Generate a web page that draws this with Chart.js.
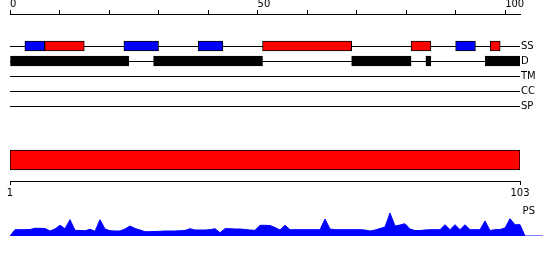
<!DOCTYPE html>
<html><head><meta charset="utf-8">
<script src="https://cdn.jsdelivr.net/npm/chart.js@4"></script>
<style>
html,body{margin:0;padding:0;background:#fff;}
#wrap{position:relative;width:550px;height:260px;overflow:hidden;}
canvas{position:absolute;left:0;}
</style></head><body>
<div id="wrap">
<canvas id="c1" width="550" height="200" style="top:0;width:550px;height:200px"></canvas>
<canvas id="c2" width="550" height="65" style="top:195px;width:550px;height:65px"></canvas>
</div>
<script>
// ---- data ----
const trackNames = ['SS', 'D', 'TM', 'CC', 'SP'];
const topTicks = [0, 10, 20, 30, 40, 50, 60, 70, 80, 90, 100];
const topLabels = [0, 50, 100];
const bottomTicks = [1, 103];
const ssHelix = [[7, 15], [51, 69], [81, 85], [97, 99]];      // red
const ssStrand = [[3, 7], [23, 30], [38, 43], [90, 94]];      // blue
const disorder = [[0, 24], [29, 51], [69, 81], [84, 85], [96, 103]];
const domain = [[1, 103]];
const psLabel = 'PS';
const psValues = [
  0, 6.3, 6.3, 6.3, 6.5, 7.7, 7.7, 7.5, 5, 7,
  10.7, 7.3, 16.3, 5.7, 5.5, 5.3, 6.7, 4.7, 16.3, 7,
  5.3, 5, 5, 7, 10, 7.5, 6, 4.3, 4.3, 4.5,
  4.7, 5, 5, 5, 5.3, 5.5, 7.3, 6, 6, 6,
  6.3, 7.3, 3.3, 7.3, 7.3, 7, 7, 6.5, 6, 5.7,
  10.7, 10.7, 10.5, 8.5, 6, 10.7, 6.3, 6.3, 6.3, 6.3,
  6.3, 6.3, 6.3, 17, 7, 6.3, 6.3, 6.3, 6.3, 6.3,
  6.3, 6, 5, 6, 7.5, 9, 23, 10, 11, 12.3,
  7, 5.5, 5.5, 6, 6.3, 6.3, 6.3, 11.3, 6.3, 11.3,
  6.3, 11.3, 6.3, 6.3, 6.3, 15, 5.5, 6.3, 6.5, 8,
  17.3, 11.3, 11.3
];
const psTail = [0, 0, 0, 0, 0];   // flat baseline past the last residue

// ---- layout constants ----
const FONT = {family: 'DejaVu Sans', size: 10};
const DOMAIN_ROW = 7.6;

const barBase = {borderColor: '#000', borderWidth: 1, borderSkipped: false, grouped: false, barThickness: 10};

new Chart(document.getElementById('c1'), {
  type: 'bar',
  data: {
    datasets: [
      Object.assign({}, barBase, {data: ssStrand.map(r => ({x: r, y: 0})), backgroundColor: '#0000ff'}),
      Object.assign({}, barBase, {data: ssHelix.map(r => ({x: r, y: 0})), backgroundColor: '#ff0000'}),
      Object.assign({}, barBase, {data: disorder.map(r => ({x: r, y: 1})), backgroundColor: '#000'}),
      Object.assign({}, barBase, {data: domain.map(r => ({x: r, y: DOMAIN_ROW})), backgroundColor: '#ff0000', barThickness: 20, xAxisID: 'x2'})
    ]
  },
  options: {
    responsive: false, animation: false, events: [], indexAxis: 'y',
    layout: {padding: {left: 10, top: 0, right: 0, bottom: 0}},
    plugins: {legend: {display: false}, tooltip: {enabled: false}},
    scales: {
      x: {
        type: 'linear', position: 'top', min: 0, max: 103, offset: false,
        afterBuildTicks: s => { s.ticks = topTicks.map(v => ({value: v})); },
        afterFit: s => { s.height = 14; },
        grid: {drawOnChartArea: false, drawTicks: true, tickLength: 4, color: '#000', lineWidth: 1, offset: false},
        border: {display: true, color: '#000', width: 1},
        ticks: {align: 'start', padding: 0, maxRotation: 0, autoSkip: false, color: '#000', font: FONT,
          callback: v => topLabels.includes(v) ? String(v) : ''}
      },
      x2: {
        type: 'linear', position: 'bottom', min: 1, max: 103, offset: false,
        afterBuildTicks: s => { s.ticks = bottomTicks.map(v => ({value: v})); },
        afterFit: s => { s.height = 19; },
        grid: {drawOnChartArea: false, drawTicks: true, tickLength: 4, color: '#000', lineWidth: 1, offset: false},
        border: {display: true, color: '#000', width: 1},
        ticks: {padding: 2, maxRotation: 0, autoSkip: false, color: '#000', font: FONT,
          callback: v => String(v)}
      },
      y: {
        type: 'linear', position: 'right', reverse: true, min: -32 / 15, max: 9, offset: false,
        afterBuildTicks: s => { s.ticks = trackNames.map((n, i) => ({value: i})); },
        afterFit: s => { s.width = 30; },
        grid: {drawTicks: false, color: '#000', lineWidth: 1, offset: false},
        border: {display: false},
        ticks: {padding: 1, color: '#000', font: FONT, autoSkip: false,
          callback: v => trackNames[v]}
      }
    }
  }
});

// PS profile: same 5 px per residue as above; x range runs a little past residue 103
const psAll = psValues.concat(psTail);
new Chart(document.getElementById('c2'), {
  type: 'line',
  data: {
    datasets: [{
      data: psAll.map((v, i) => ({x: i + 1, y: v})),
      borderColor: '#0000ff', backgroundColor: '#0000ff', borderWidth: 1,
      pointRadius: 0, tension: 0, fill: 'origin'
    }]
  },
  options: {
    responsive: false, animation: false, events: [],
    layout: {padding: {left: 10, top: 16, right: 0, bottom: 24}},
    plugins: {legend: {display: false}, tooltip: {enabled: false}},
    scales: {
      x: {type: 'linear', min: 1, max: 1 + 533 / 5, display: false},
      y: {
        type: 'linear', position: 'right', min: 0, max: 25,
        afterBuildTicks: s => { s.ticks = [{value: 25}]; },
        afterFit: s => { s.width = 7; },
        grid: {display: false, drawTicks: false}, border: {display: false},
        ticks: {mirror: true, crossAlign: 'near', padding: -8, color: '#000', font: FONT, callback: () => psLabel}
      }
    }
  }
});
</script>
</body></html>
